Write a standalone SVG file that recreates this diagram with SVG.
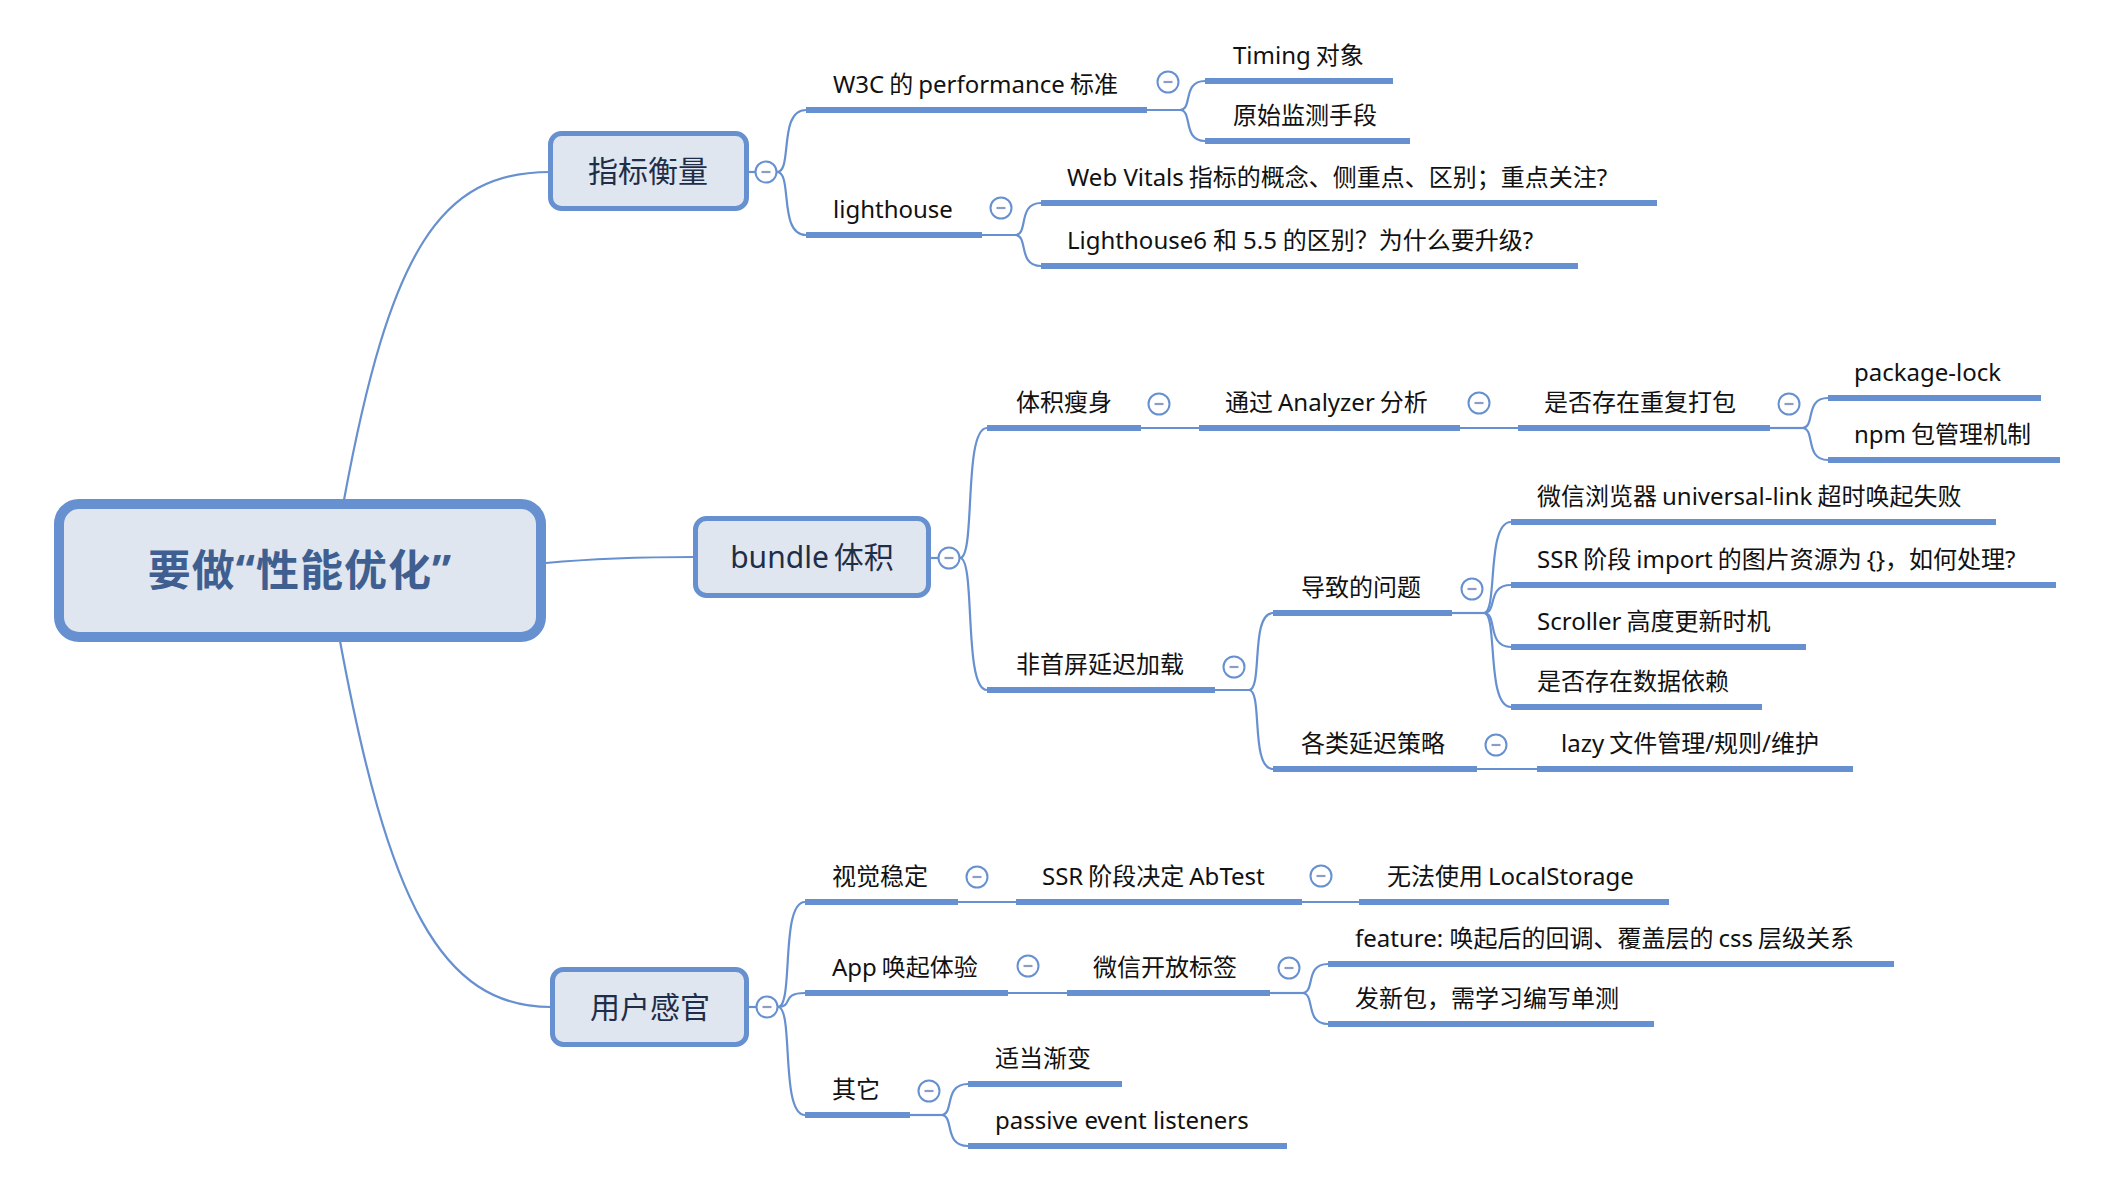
<svg xmlns="http://www.w3.org/2000/svg" width="2122" height="1184" viewBox="0 0 2122 1184">
<defs>
<style>
.bg{fill:#ffffff}
.conn{fill:none;stroke:#6690cf;stroke-width:2.2}
.ul{stroke:#6690cf;stroke-width:6;stroke-linecap:butt}
.box{fill:#dfe6f0;stroke:#6690cf;stroke-width:5}
.rootbox{fill:#dfe6f0;stroke:#6690cf;stroke-width:10}
.t{font-family:"Noto Sans","Noto Sans CJK SC",sans-serif;font-size:24px;fill:#111111}
.mt{font-family:"Noto Sans","Noto Sans CJK SC",sans-serif;font-size:30px;fill:#1f2e48;text-anchor:middle}
.rt{font-family:"Noto Sans","Noto Sans CJK SC",sans-serif;font-size:43px;font-weight:bold;fill:#3f5f91;text-anchor:middle;letter-spacing:1px}
.cc{fill:#ffffff;stroke:#6690cf;stroke-width:2}
.mn{stroke:#8f9cc2;stroke-width:2.2}
</style>
<g id="collapse">
<circle class="cc" cx="0" cy="0" r="10.5"/>
<line class="mn" x1="-4.5" y1="0" x2="4.5" y2="0"/>
</g>
</defs>
<rect class="bg" x="0" y="0" width="2122" height="1184"/>

<g id="connectors">
<path class="conn" d="M344,500 C390,250 440,172 550,172"/>
<path class="conn" d="M546,563 C600,558 640,557 695,557"/>
<path class="conn" d="M340,641 C388,900 440,1007 551,1007"/>
<path class="conn" d="M748,172 L756,172"/>
<path class="conn" d="M930,558 L939,558"/>
<path class="conn" d="M748,1007 L757,1007"/>
<path class="conn" d="M777,172 C793,172 778,110 806,110"/>
<path class="conn" d="M777,172 C793,172 778,235 806,235"/>
<path class="conn" d="M1147,110 L1180,110"/>
<path class="conn" d="M1180,110 C1193,110 1182,81 1205,81"/>
<path class="conn" d="M1180,110 C1193,110 1182,141 1205,141"/>
<path class="conn" d="M982,235 L1015,235"/>
<path class="conn" d="M1015,235 C1029,235 1017,203 1041,203"/>
<path class="conn" d="M1015,235 C1029,235 1017,266 1041,266"/>
<path class="conn" d="M960,558 C976,558 963,428 987,428"/>
<path class="conn" d="M960,558 C976,558 963,690 987,690"/>
<path class="conn" d="M1141,428 L1199,428"/>
<path class="conn" d="M1460,428 L1518,428"/>
<path class="conn" d="M1770,428 L1802,428"/>
<path class="conn" d="M1802,428 C1816,428 1804,398 1828,398"/>
<path class="conn" d="M1802,428 C1816,428 1804,460 1828,460"/>
<path class="conn" d="M1215,690 L1249,690"/>
<path class="conn" d="M1249,690 C1263,690 1250,613 1273,613"/>
<path class="conn" d="M1249,690 C1263,690 1250,769 1273,769"/>
<path class="conn" d="M1452,613 L1484,613"/>
<path class="conn" d="M1484,613 C1498,613 1486,522 1511,522"/>
<path class="conn" d="M1484,613 C1498,613 1486,585 1511,585"/>
<path class="conn" d="M1484,613 C1498,613 1486,647 1511,647"/>
<path class="conn" d="M1484,613 C1498,613 1486,707 1511,707"/>
<path class="conn" d="M1477,769 L1537,769"/>
<path class="conn" d="M778,1007 C794,1007 780,902 805,902"/>
<path class="conn" d="M778,1007 C794,1007 780,993 805,993"/>
<path class="conn" d="M778,1007 C794,1007 780,1115 805,1115"/>
<path class="conn" d="M958,902 L1016,902"/>
<path class="conn" d="M1302,902 L1359,902"/>
<path class="conn" d="M1008,993 L1067,993"/>
<path class="conn" d="M1270,993 L1302,993"/>
<path class="conn" d="M1302,993 C1316,993 1304,964 1328,964"/>
<path class="conn" d="M1302,993 C1316,993 1304,1024 1328,1024"/>
<path class="conn" d="M910,1115 L941,1115"/>
<path class="conn" d="M941,1115 C955,1115 943,1084 968,1084"/>
<path class="conn" d="M941,1115 C955,1115 943,1146 968,1146"/>
</g>

<g id="root">
<rect class="rootbox" x="59" y="504" width="482" height="133" rx="20"/>
<text class="rt" x="300" y="586">要做“性能优化”</text>
</g>

<g id="n-zhibiao">
<rect class="box" x="550.5" y="133.5" width="196" height="75" rx="11"/>
<text class="mt" x="648" y="182">指标衡量</text>
<use href="#collapse" x="766" y="172"/>
</g>
<g id="n-bundle">
<rect class="box" x="695.5" y="518.5" width="233" height="77" rx="11"/>
<text class="mt" x="812" y="568">bundle<tspan dx="5">体积</tspan></text>
<use href="#collapse" x="949" y="558"/>
</g>
<g id="n-yonghu">
<rect class="box" x="552.5" y="969.5" width="194" height="75" rx="11"/>
<text class="mt" x="650" y="1018">用户感官</text>
<use href="#collapse" x="767" y="1007"/>
</g>

<g id="n-w3c"><line class="ul" x1="806" y1="110" x2="1147" y2="110"/><text class="t" x="833" y="93">W3C<tspan dx="5">的</tspan><tspan dx="5">performance</tspan><tspan dx="5">标准</tspan></text><use href="#collapse" x="1168" y="82"/></g>
<g id="n-timing"><line class="ul" x1="1205" y1="81" x2="1393" y2="81"/><text class="t" x="1233" y="64">Timing<tspan dx="5">对象</tspan></text></g>
<g id="n-yuanshi"><line class="ul" x1="1205" y1="141" x2="1410" y2="141"/><text class="t" x="1233" y="124">原始监测手段</text></g>
<g id="n-lighthouse"><line class="ul" x1="806" y1="235" x2="982" y2="235"/><text class="t" x="833" y="218">lighthouse</text><use href="#collapse" x="1001" y="208"/></g>
<g id="n-webvitals"><line class="ul" x1="1041" y1="203" x2="1657" y2="203"/><text class="t" x="1067" y="186">Web Vitals<tspan dx="5">指标的概念、侧重点、区别；重点关注?</tspan></text></g>
<g id="n-lh6"><line class="ul" x1="1041" y1="266" x2="1578" y2="266"/><text class="t" x="1067" y="249">Lighthouse6<tspan dx="6">和</tspan><tspan dx="6">5.5</tspan><tspan dx="6">的区别？为什么要升级?</tspan></text></g>

<g id="n-tiji"><line class="ul" x1="987" y1="428" x2="1141" y2="428"/><text class="t" x="1016" y="411">体积瘦身</text><use href="#collapse" x="1159" y="404"/></g>
<g id="n-analyzer"><line class="ul" x1="1199" y1="428" x2="1460" y2="428"/><text class="t" x="1225" y="411">通过<tspan dx="5">Analyzer</tspan><tspan dx="5">分析</tspan></text><use href="#collapse" x="1479" y="403"/></g>
<g id="n-chongfu"><line class="ul" x1="1518" y1="428" x2="1770" y2="428"/><text class="t" x="1544" y="411">是否存在重复打包</text><use href="#collapse" x="1789" y="404"/></g>
<g id="n-pkglock"><line class="ul" x1="1828" y1="398" x2="2041" y2="398"/><text class="t" x="1854" y="381">package-lock</text></g>
<g id="n-npm"><line class="ul" x1="1828" y1="460" x2="2060" y2="460"/><text class="t" x="1854" y="443">npm<tspan dx="5">包管理机制</tspan></text></g>
<g id="n-feishouping"><line class="ul" x1="987" y1="690" x2="1215" y2="690"/><text class="t" x="1016" y="673">非首屏延迟加载</text><use href="#collapse" x="1234" y="667"/></g>
<g id="n-daozhi"><line class="ul" x1="1273" y1="613" x2="1452" y2="613"/><text class="t" x="1301" y="596">导致的问题</text><use href="#collapse" x="1472" y="589"/></g>
<g id="n-weixinliulan"><line class="ul" x1="1511" y1="522" x2="1996" y2="522"/><text class="t" x="1537" y="505">微信浏览器<tspan dx="5">universal-link</tspan><tspan dx="5">超时唤起失败</tspan></text></g>
<g id="n-ssrimport"><line class="ul" x1="1511" y1="585" x2="2056" y2="585"/><text class="t" x="1537" y="568">SSR<tspan dx="5">阶段</tspan><tspan dx="5">import</tspan><tspan dx="5">的图片资源为</tspan><tspan dx="5">{}，如何处理?</tspan></text></g>
<g id="n-scroller"><line class="ul" x1="1511" y1="647" x2="1806" y2="647"/><text class="t" x="1537" y="630">Scroller<tspan dx="5">高度更新时机</tspan></text></g>
<g id="n-shuju"><line class="ul" x1="1511" y1="707" x2="1762" y2="707"/><text class="t" x="1537" y="690">是否存在数据依赖</text></g>
<g id="n-gelei"><line class="ul" x1="1273" y1="769" x2="1477" y2="769"/><text class="t" x="1301" y="752">各类延迟策略</text><use href="#collapse" x="1496" y="745"/></g>
<g id="n-lazy"><line class="ul" x1="1537" y1="769" x2="1853" y2="769"/><text class="t" x="1561" y="752">lazy<tspan dx="5">文件管理/规则/维护</tspan></text></g>

<g id="n-shijue"><line class="ul" x1="805" y1="902" x2="958" y2="902"/><text class="t" x="832" y="885">视觉稳定</text><use href="#collapse" x="977" y="877"/></g>
<g id="n-abtest"><line class="ul" x1="1016" y1="902" x2="1302" y2="902"/><text class="t" x="1042" y="885">SSR<tspan dx="5">阶段决定</tspan><tspan dx="5">AbTest</tspan></text><use href="#collapse" x="1321" y="876"/></g>
<g id="n-localstorage"><line class="ul" x1="1359" y1="902" x2="1669" y2="902"/><text class="t" x="1387" y="885">无法使用<tspan dx="5">LocalStorage</tspan></text></g>
<g id="n-app"><line class="ul" x1="805" y1="993" x2="1008" y2="993"/><text class="t" x="832" y="976">App<tspan dx="5">唤起体验</tspan></text><use href="#collapse" x="1028" y="966"/></g>
<g id="n-kaifang"><line class="ul" x1="1067" y1="993" x2="1270" y2="993"/><text class="t" x="1093" y="976">微信开放标签</text><use href="#collapse" x="1289" y="968"/></g>
<g id="n-feature"><line class="ul" x1="1328" y1="964" x2="1894" y2="964"/><text class="t" x="1355" y="947">feature: <tspan>唤起后的回调、覆盖层的</tspan><tspan dx="5">css</tspan><tspan dx="5">层级关系</tspan></text></g>
<g id="n-faxinbao"><line class="ul" x1="1328" y1="1024" x2="1654" y2="1024"/><text class="t" x="1355" y="1007">发新包，需学习编写单测</text></g>
<g id="n-qita"><line class="ul" x1="805" y1="1115" x2="910" y2="1115"/><text class="t" x="832" y="1098">其它</text><use href="#collapse" x="929" y="1091"/></g>
<g id="n-jianbian"><line class="ul" x1="968" y1="1084" x2="1122" y2="1084"/><text class="t" x="995" y="1067">适当渐变</text></g>
<g id="n-passive"><line class="ul" x1="968" y1="1146" x2="1287" y2="1146"/><text class="t" x="995" y="1129">passive event listeners</text></g>
</svg>
